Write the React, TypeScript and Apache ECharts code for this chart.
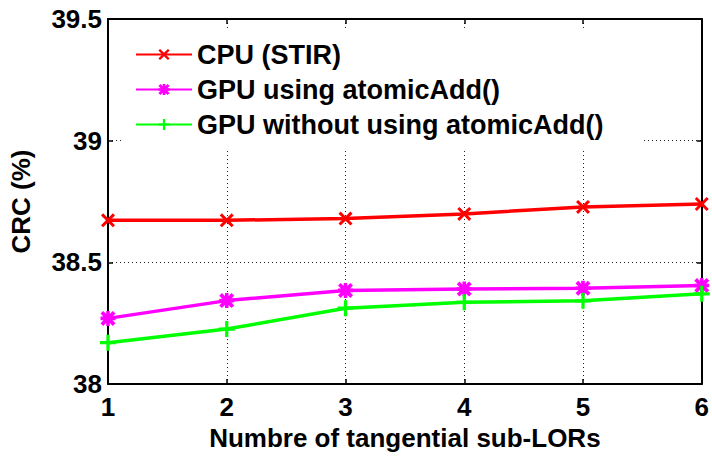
import React, { useEffect, useRef } from "react";
import * as echarts from "echarts";

// Number of tangential sub-LORs
const subLors = [1, 2, 3, 4, 5, 6];
// Contrast recovery coefficient (%) per implementation
const cpuStir = [38.673, 38.673, 38.68, 38.699, 38.728, 38.74];
const gpuAtomic = [38.27, 38.343, 38.385, 38.391, 38.394, 38.405];
const gpuNoAtomic = [38.17, 38.226, 38.312, 38.336, 38.342, 38.371];
const yTicks = [38, 38.5, 39, 39.5];

const FONT = "'Liberation Sans', Arial, Helvetica, sans-serif";

// Marker outlines (filled paths on a 100x100 box)
const CROSS_X =
  "path://M0,15 L15,0 L50,35 L85,0 L100,15 L65,50 L100,85 L85,100 L50,65 L15,100 L0,85 L35,50 Z";
const PLUS =
  "path://M40,0 L60,0 L60,40 L100,40 L100,60 L60,60 L60,100 L40,100 L40,60 L0,60 L0,40 L40,40 Z";
const STAR =
  "path://M0,18 L18,0 L50,32 L82,0 L100,18 L68,50 L100,82 L82,100 L50,68 L18,100 L0,82 L32,50 Z M38,0 L62,0 L62,38 L100,38 L100,62 L62,62 L62,100 L38,100 L38,62 L0,62 L0,38 L38,38 Z";

const pairs = (ys: number[]) => subLors.map((x, i) => [x, ys[i]]);

export default function App() {
  const ref = useRef<HTMLDivElement>(null);

  useEffect(() => {
    if (!ref.current) return;
    document.body.style.margin = "0";
    const chart = echarts.init(ref.current, undefined, { renderer: "svg" });

    const tickLabel = { fontFamily: FONT, fontWeight: "bold" as const, fontSize: 26, color: "#000" };
    const frameLine = { show: true, lineStyle: { color: "#000", width: 2 } };
    const inTick = { show: true, inside: true, length: 5, lineStyle: { color: "#000", width: 1.5 } };
    const dotted = { show: true, lineStyle: { color: "#222", width: 1, type: [1, 3] as number[] } };

    const line = (name: string, data: number[], color: string, symbol: string, size: number) => ({
      name,
      type: "line" as const,
      data: pairs(data),
      symbol,
      symbolSize: size,
      showSymbol: true,
      lineStyle: { color, width: 3.5 },
      itemStyle: { color },
      z: 3,
    });

    chart.setOption({
      animation: false,
      backgroundColor: "#fff",
      grid: { left: 108, right: 9, top: 19, bottom: 70, containLabel: false },
      legend: {
        orient: "vertical",
        left: 123,
        top: 28,
        padding: [13, 40, 13, 12],
        backgroundColor: "#fff",
        itemWidth: 56,
        itemHeight: 14,
        itemGap: 8,
        textStyle: { fontFamily: FONT, fontWeight: "bold", fontSize: 27, color: "#000", padding: [0, 0, 0, 0] },
        data: ["CPU (STIR)", "GPU using atomicAdd()", "GPU without using atomicAdd()"],
      },
      xAxis: [
        {
          type: "value",
          min: 1,
          max: 6,
          interval: 1,
          name: "Numbre of tangential sub-LORs",
          nameLocation: "middle",
          nameGap: 38,
          nameTextStyle: { ...tickLabel },
          axisLine: frameLine,
          axisTick: inTick,
          axisLabel: { ...tickLabel, margin: 10 },
          splitLine: dotted,
        },
        {
          type: "value",
          position: "top",
          min: 1,
          max: 6,
          interval: 1,
          axisLine: frameLine,
          axisTick: inTick,
          axisLabel: { show: false },
          splitLine: { show: false },
        },
      ],
      yAxis: [
        {
          type: "value",
          min: yTicks[0],
          max: yTicks[yTicks.length - 1],
          interval: 0.5,
          name: "CRC (%)",
          nameLocation: "middle",
          nameGap: 74,
          nameTextStyle: { ...tickLabel },
          axisLine: frameLine,
          axisTick: inTick,
          axisLabel: { ...tickLabel, margin: 6 },
          splitLine: dotted,
        },
        {
          type: "value",
          position: "right",
          min: yTicks[0],
          max: yTicks[yTicks.length - 1],
          interval: 0.5,
          axisLine: frameLine,
          axisTick: inTick,
          axisLabel: { show: false },
          splitLine: { show: false },
        },
      ],
      series: [
        line("CPU (STIR)", cpuStir, "#ff0000", CROSS_X, 14),
        line("GPU using atomicAdd()", gpuAtomic, "#ff00ff", STAR, 15),
        line("GPU without using atomicAdd()", gpuNoAtomic, "#00ff00", PLUS, 16),
      ],
    });

    return () => chart.dispose();
  }, []);

  return <div ref={ref} style={{ width: 712, height: 456 }} />;
}
